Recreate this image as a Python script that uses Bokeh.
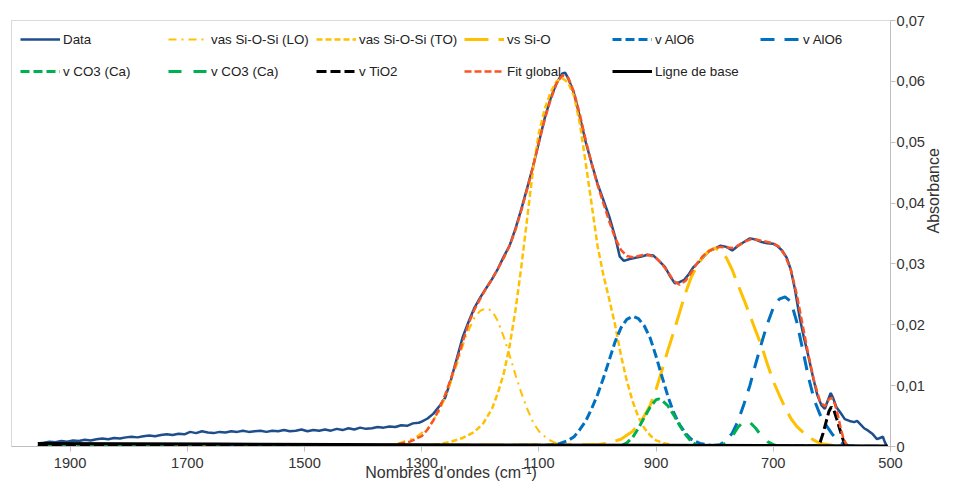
from bokeh.plotting import figure
from bokeh.models import Range1d, FixedTicker, Legend, LegendItem
from bokeh.embed import file_html
from bokeh.resources import INLINE

# ---------------- data ----------------
data_wn = [1955, 1945, 1935, 1925, 1915, 1905, 1895, 1885, 1875, 1865, 1855, 1845, 1835, 1825,
           1815, 1805, 1795, 1785, 1775, 1765, 1755, 1745, 1735, 1725, 1715, 1705, 1695, 1685,
           1675, 1665, 1655, 1645, 1635, 1625, 1615, 1605, 1595, 1585, 1575, 1565, 1555, 1545,
           1535, 1525, 1515, 1505, 1495, 1485, 1475, 1465, 1455, 1445, 1435, 1425, 1415, 1405,
           1395, 1385, 1375, 1365, 1355, 1345, 1335, 1325, 1315, 1305,
           1300, 1290, 1280, 1270, 1260, 1250, 1240,
           1230, 1220, 1210, 1200, 1190, 1180, 1170, 1160, 1150, 1140, 1130, 1120, 1110, 1100,
           1090, 1080, 1070, 1060, 1055, 1050, 1040, 1030, 1020, 1010, 1000, 990, 980, 970,
           962, 955, 945, 935, 925, 915, 905, 895, 885, 875, 868, 860, 852, 845, 837, 825,
           815, 808, 800, 790, 780, 770, 760, 750, 740, 730, 720, 710, 700, 694, 685, 677,
           670, 663, 655, 648, 640, 632, 625, 618, 612, 606, 602, 598, 592, 585, 578, 570,
           562, 557, 550, 545, 538, 530, 523, 518, 513, 510, 506]
data_abs = [0.0005, 0.0006, 0.0008, 0.0007, 0.0009, 0.0008, 0.0010, 0.0009, 0.0011, 0.0010,
            0.0012, 0.0013, 0.0012, 0.0014, 0.0013, 0.0015, 0.0016, 0.0015, 0.0017, 0.0018,
            0.0017, 0.0019, 0.0020, 0.0019, 0.0021, 0.0020, 0.0024, 0.0022, 0.0025, 0.0023,
            0.0022, 0.0024, 0.0023, 0.0025, 0.0024, 0.0026, 0.0024, 0.0025, 0.0026, 0.0024,
            0.0026, 0.0025, 0.0027, 0.0025, 0.0026, 0.0028, 0.0025, 0.0027, 0.0026, 0.0028,
            0.0026, 0.0029, 0.0027, 0.0030, 0.0028, 0.0031, 0.0029, 0.0030, 0.0032, 0.0031,
            0.0033, 0.0032, 0.0035, 0.0034, 0.0038, 0.0039,
            0.0041, 0.0046, 0.0054, 0.0066, 0.0080, 0.0110, 0.0145,
            0.0180, 0.0205, 0.0228, 0.0245, 0.0260, 0.0275, 0.0292, 0.0312,
            0.0330, 0.0358, 0.0390, 0.0425, 0.0460, 0.0500, 0.0540, 0.0572, 0.0597, 0.0613,
            0.0614, 0.0605, 0.0580, 0.0541, 0.0500, 0.0465, 0.0432, 0.0405, 0.0378, 0.0345,
            0.0312, 0.0305, 0.0308, 0.0310, 0.0312, 0.0315, 0.0314, 0.0305, 0.0295, 0.0278,
            0.0268, 0.0270, 0.0274, 0.0282, 0.0294, 0.0305, 0.0316, 0.0322, 0.0325, 0.0330,
            0.0328, 0.0322, 0.0330, 0.0336, 0.0342, 0.0340, 0.0336, 0.0334, 0.0333, 0.0330,
            0.0322, 0.0310, 0.0290, 0.0258, 0.0212, 0.0180, 0.0148, 0.0113, 0.0085, 0.0068,
            0.0062, 0.0078, 0.0088, 0.0080, 0.0064, 0.0055, 0.0045, 0.0042, 0.0040, 0.0042,
            0.0035, 0.0030, 0.0026, 0.0020, 0.0012, 0.0014, 0.0016, 0.0008, 0.0000]

lo_wn = [1955, 1380, 1340, 1310, 1290, 1270, 1255, 1240, 1225, 1210, 1200, 1190, 1180, 1170,
         1160, 1150, 1140, 1130, 1120, 1110, 1100, 1085, 1070, 1050, 1000, 505]
lo_abs = [0.0, 0.0, 0.0005, 0.0015, 0.0030, 0.0058, 0.0092, 0.0135, 0.0180, 0.0212, 0.0223,
          0.0227, 0.0223, 0.0206, 0.0180, 0.0150, 0.0118, 0.0088, 0.0062, 0.0040, 0.0025,
          0.0012, 0.0005, 0.0001, 0.0, 0.0]

to_wn = [1955, 1300, 1270, 1250, 1230, 1210, 1195, 1180, 1170, 1160, 1150, 1140, 1130, 1120,
         1110, 1100, 1090, 1080, 1070, 1060, 1050, 1040, 1030, 1020, 1010, 1000, 990, 980,
         970, 960, 950, 940, 930, 920, 910, 900, 885, 870, 850, 505]
to_abs = [0.0, 0.0001, 0.0004, 0.0008, 0.0014, 0.0024, 0.0038, 0.0062, 0.0088, 0.0120, 0.0165,
          0.0224, 0.0295, 0.0375, 0.0455, 0.0515, 0.0555, 0.0582, 0.0600, 0.0605, 0.0598,
          0.0576, 0.0530, 0.0465, 0.0398, 0.0330, 0.0282, 0.0242, 0.0200, 0.0150, 0.0108,
          0.0074, 0.0048, 0.0030, 0.0018, 0.0010, 0.0005, 0.0002, 0.0, 0.0]

vs_wn = [1955, 1000, 980, 960, 940, 925, 910, 900, 890, 880, 870, 860, 850, 840, 830, 820, 810,
         800, 790, 780, 770, 760, 750, 740, 730, 720, 710, 700, 690, 680, 670, 660, 650, 640,
         630, 620, 600, 580, 505]
vs_abs = [0.0, 0.0003, 0.0006, 0.0012, 0.0025, 0.0042, 0.0068, 0.0094, 0.0125, 0.0158, 0.0188,
          0.0220, 0.0252, 0.0278, 0.0297, 0.0312, 0.0321, 0.0326, 0.0322, 0.0310, 0.0290,
          0.0265, 0.0241, 0.0216, 0.0190, 0.0165, 0.0135, 0.0107, 0.0085, 0.0064, 0.0046,
          0.0033, 0.0024, 0.0016, 0.0010, 0.0005, 0.0002, 0.0, 0.0]

alo1_wn = [1955, 1080, 1064, 1050, 1040, 1030, 1020, 1010, 1000, 990, 980, 970, 960, 950, 940,
           930, 920, 910, 900, 890, 880, 870, 860, 850, 840, 825, 800, 505]
alo1_abs = [0.0, 0.0002, 0.0005, 0.0010, 0.0016, 0.0028, 0.0042, 0.0062, 0.0085, 0.0112, 0.0142,
            0.0172, 0.0195, 0.0209, 0.0214, 0.0210, 0.0198, 0.0178, 0.0148, 0.0115, 0.0083,
            0.0056, 0.0036, 0.0022, 0.0012, 0.0005, 0.0001, 0.0]

alo2_wn = [1955, 810, 791, 780, 770, 760, 750, 740, 730, 720, 710, 700, 690, 680, 670, 660, 650,
           640, 630, 620, 610, 600, 590, 580, 570, 505]
alo2_abs = [0.0, 0.0001, 0.0003, 0.0010, 0.0022, 0.0042, 0.0070, 0.0100, 0.0136, 0.0170, 0.0202,
            0.0228, 0.0242, 0.0246, 0.0238, 0.0205, 0.0160, 0.0114, 0.0076, 0.0052, 0.0035,
            0.0021, 0.0010, 0.0004, 0.0001, 0.0]

co3a_wn = [1955, 960, 950, 940, 930, 920, 910, 900, 895, 890, 880, 870, 860, 850, 840, 830, 820, 505]
co3a_abs = [0.0, 0.0001, 0.0006, 0.0015, 0.0030, 0.0048, 0.0065, 0.0077, 0.0078, 0.0076, 0.0067,
            0.0052, 0.0035, 0.0020, 0.0008, 0.0002, 0.0, 0.0]

co3b_wn = [1955, 790, 780, 770, 760, 750, 745, 740, 730, 720, 710, 700, 690, 505]
co3b_abs = [0.0, 0.0001, 0.0006, 0.0017, 0.0032, 0.0042, 0.0043, 0.0040, 0.0030, 0.0017, 0.0008,
            0.0003, 0.0, 0.0]

tio2_wn = [1955, 625, 620, 615, 610, 605, 601, 597, 592, 587, 582, 578, 574, 505]
tio2_abs = [0.0, 0.0001, 0.0007, 0.0022, 0.0040, 0.0058, 0.0065, 0.0061, 0.0046, 0.0030, 0.0014,
            0.0004, 0.0, 0.0]

fit_wn = [1340, 1320, 1300, 1290, 1280, 1270, 1260, 1250, 1240, 1230, 1220, 1210, 1200, 1190,
          1180, 1170, 1160, 1150, 1140, 1130, 1120, 1110, 1100, 1090, 1080, 1070, 1060, 1050,
          1040, 1030, 1020, 1010, 1000, 990, 980, 970, 960, 950, 940, 930, 920, 910, 900, 890,
          880, 870, 860, 850, 840, 830, 820, 810, 800, 790, 780, 770, 760, 750, 740, 730, 720,
          710, 700, 690, 680, 670, 660, 650, 640, 630, 620, 612, 605, 600, 595, 590, 585, 580, 575]
fit_abs = [0.0004, 0.0008, 0.0017, 0.0028, 0.0043, 0.0062, 0.0085, 0.0112, 0.0141, 0.0172,
           0.0202, 0.0225, 0.0243, 0.0260, 0.0275, 0.0292, 0.0310, 0.0330, 0.0356, 0.0388,
           0.0423, 0.0460, 0.0500, 0.0538, 0.0570, 0.0596, 0.0610, 0.0606, 0.0582, 0.0545,
           0.0503, 0.0465, 0.0430, 0.0400, 0.0370, 0.0343, 0.0323, 0.0313, 0.0311, 0.0313,
           0.0315, 0.0314, 0.0310, 0.0300, 0.0287, 0.0272, 0.0266, 0.0272, 0.0286, 0.0301,
           0.0313, 0.0321, 0.0326, 0.0328, 0.0327, 0.0326, 0.0330, 0.0336, 0.0340, 0.0340,
           0.0338, 0.0336, 0.0334, 0.0328, 0.0314, 0.0290, 0.0250, 0.0200, 0.0150, 0.0106,
           0.0073, 0.0066, 0.0078, 0.0080, 0.0070, 0.0052, 0.0030, 0.0012, 0.0003]

base_wn = [1955, 1650, 1300, 900, 505]
base_abs = [0.0005, 0.0004, 0.0003, 0.0002, 0.0001]

x_ticks = [1900, 1700, 1500, 1300, 1100, 900, 700, 500]
y_ticks = [0.0, 0.01, 0.02, 0.03, 0.04, 0.05, 0.06, 0.07]
y_tick_labels = ["0", "0,01", "0,02", "0,03", "0,04", "0,05", "0,06", "0,07"]

x_title = "Nombres d'ondes (cm\u207b\u00b9)"
y_title = "Absorbance"

series_labels = ["Data", "vas Si-O-Si (LO)", "vas Si-O-Si (TO)", "vs Si-O", "v AlO6", "v AlO6",
                 "v CO3 (Ca)", "v CO3 (Ca)", "v TiO2", "Fit global", "Ligne de base"]

# ---------------- figure ----------------
FONT = "Liberation Sans"
TXT = "#333333"
AX = "#BFBFBF"

p = figure(width=953, height=484, output_backend="svg", toolbar_location=None,
           x_range=Range1d(2000, 500), y_range=Range1d(0, 0.07), y_axis_location="right",
           min_border_left=11, min_border_top=20, min_border_right=62, min_border_bottom=38)
p.background_fill_color = "white"
p.border_fill_color = "white"
p.outline_line_color = "#D9D9D9"
p.grid.visible = False

series = [
    (data_wn, data_abs, dict(line_color="#1F4E8C", line_width=2.5)),
    (lo_wn, lo_abs, dict(line_color="#FFC000", line_width=2, line_dash="8 5 2 5")),
    (to_wn, to_abs, dict(line_color="#FFC000", line_width=2.5, line_dash="6 3")),
    (vs_wn, vs_abs, dict(line_color="#FFC000", line_width=3, line_dash="24 10")),
    (alo1_wn, alo1_abs, dict(line_color="#0070C0", line_width=3, line_dash="9 4")),
    (alo2_wn, alo2_abs, dict(line_color="#0070C0", line_width=3, line_dash="14 10")),
    (co3a_wn, co3a_abs, dict(line_color="#00B050", line_width=3, line_dash="9 4")),
    (co3b_wn, co3b_abs, dict(line_color="#00B050", line_width=3, line_dash="13 12")),
    (tio2_wn, tio2_abs, dict(line_color="#000000", line_width=3, line_dash="10 4")),
    (fit_wn, fit_abs, dict(line_color="#FA5424", line_width=2.5, line_dash="7 3")),
    (base_wn, base_abs, dict(line_color="#000000", line_width=3)),
]
renderers = []
for xs, ys, style in series:
    renderers.append(p.line(xs, ys, **style))

# x axis
xa = p.xaxis[0]
xa.ticker = FixedTicker(ticks=x_ticks)
xa.major_tick_out = 5
xa.major_tick_in = 0
xa.minor_tick_out = 0
xa.minor_tick_in = 0
xa.axis_line_color = AX
xa.major_tick_line_color = AX
xa.major_label_text_font = FONT
xa.major_label_text_font_size = "11pt"
xa.major_label_text_color = TXT
xa.major_label_standoff = 6
xa.axis_label = x_title
xa.axis_label_text_font = FONT
xa.axis_label_text_font_size = "12pt"
xa.axis_label_text_font_style = "normal"
xa.axis_label_text_color = TXT
xa.axis_label_standoff = -7

# y axis (right)
ya = p.yaxis[0]
ya.ticker = FixedTicker(ticks=y_ticks)
ya.major_label_overrides = {t: s for t, s in zip(y_ticks, y_tick_labels)}
ya.major_tick_out = 5
ya.major_tick_in = 0
ya.minor_tick_out = 0
ya.minor_tick_in = 0
ya.axis_line_color = AX
ya.major_tick_line_color = AX
ya.major_label_text_font = FONT
ya.major_label_text_font_size = "11pt"
ya.major_label_text_color = TXT
ya.major_label_standoff = 1
ya.axis_label = y_title
ya.axis_label_orientation = 1.5707963267948966
ya.axis_label_text_font = FONT
ya.axis_label_text_font_size = "12pt"
ya.axis_label_text_font_style = "normal"
ya.axis_label_text_color = TXT
ya.axis_label_standoff = 5

# legend
items = [LegendItem(label=lab, renderers=[r]) for lab, r in zip(series_labels, renderers)]
legend = Legend(items=items, location=(0, 350), orientation="horizontal", ncols=6,
                margin=0, padding=9, spacing=0, glyph_width=40, glyph_height=32,
                label_height=32, label_width=105, label_standoff=3,
                label_text_font=FONT, label_text_font_size="10pt", label_text_color="#222222",
                background_fill_alpha=0, border_line_alpha=0)
p.add_layout(legend)

open("out.html", "w").write(file_html(p, INLINE))
